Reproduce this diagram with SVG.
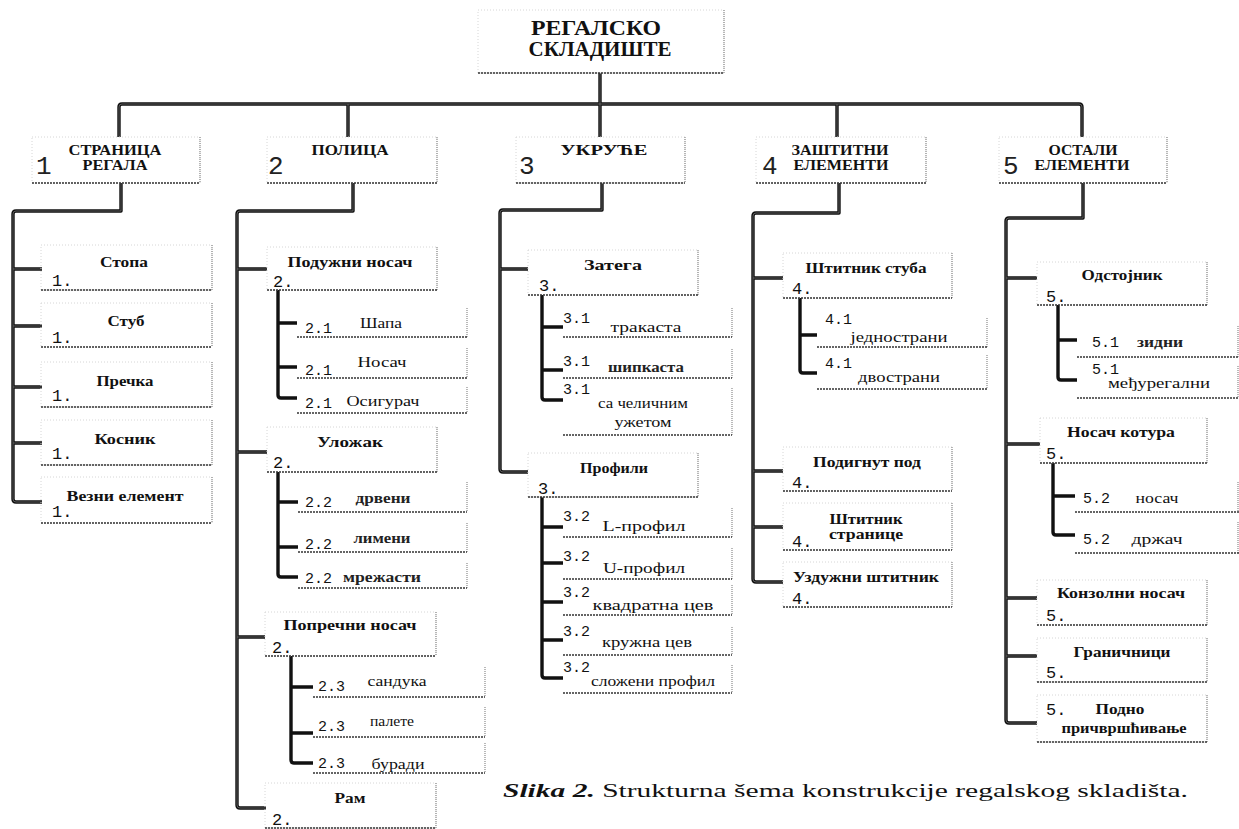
<svg xmlns="http://www.w3.org/2000/svg" xmlns:xlink="http://www.w3.org/1999/xlink" width="1239" height="829" viewBox="0 0 1239 829">
<style>
.bg{fill:#fff}
.bf{fill:none;stroke:#d6d6d6;stroke-width:1;stroke-dasharray:1 2}
.br{fill:none;stroke:#8a8a8a;stroke-width:1.2;stroke-dasharray:1 1}
.bb{fill:none;stroke:#333;stroke-width:1.6;stroke-dasharray:2 1}
.c{fill:none;stroke:#111;stroke-width:3.4;stroke-linejoin:round}
.ci{fill:none;stroke:#777;stroke-width:0.7}
.t0{font-family:"Liberation Serif","DejaVu Serif",serif;font-weight:bold;font-size:20px;fill:#111;text-anchor:middle}
.t1{font-family:"Liberation Serif","DejaVu Serif",serif;font-weight:bold;font-size:14px;fill:#111;text-anchor:middle}
.big{font-family:"Liberation Mono",monospace;font-size:26px;fill:#222}
.l2{font-family:"Liberation Serif","DejaVu Serif",serif;font-weight:bold;font-size:15px;fill:#111;text-anchor:middle}
.l3{font-family:"Liberation Serif","DejaVu Serif",serif;font-size:15px;fill:#111;text-anchor:middle}
.sb{font-family:"Liberation Serif","DejaVu Serif",serif;font-weight:bold;font-size:14px;fill:#222;text-anchor:middle}
.num{font-family:"Liberation Mono",monospace;font-size:17px;fill:#111}
.sn{font-family:"Liberation Mono",monospace;font-size:15px;fill:#111}
.cap{font-family:"Liberation Serif","DejaVu Serif",serif;font-size:19px;fill:#111}
</style>
<defs>
<path id="p0" d="M600,73 V137 M119,137 V107 Q119,104 122,104 H1079 Q1082,104 1082,107 V137 M348,104 V137 M837,104 V137"/>
<path id="p1" d="M121,183 V211 H16 Q13,211 13,214 V499 Q13,502 16,502 H42 M13,269 H42 M13,326 H42 M13,387 H42 M13,443 H42"/>
<path id="p2" d="M353,183 V211 H240 Q237,211 237,214 V805 Q237,808 240,808 H266 M237,269 H267 M237,452 H267 M237,637 H265"/>
<path id="p2a" d="M278,290 V395 Q278,398 281,398 H297 M278,323 H297 M278,367 H297"/>
<path id="p2b" d="M278,472 V574 Q278,577 281,577 H298 M278,502 H298 M278,547 H298"/>
<path id="p2c" d="M291,656 V760 Q291,763 294,763 H313 M291,687 H313 M291,733 H313"/>
<path id="p3" d="M602,183 V210 H503 Q500,210 500,213 V469 Q500,472 503,472 H528 M500,269 H528"/>
<path id="p3a" d="M542,295 V397 Q542,400 545,400 H563 M542,327 H563 M542,370 H563"/>
<path id="p3b" d="M542,497 V675 Q542,678 545,678 H563 M542,527 H563 M542,563 H563 M542,602 H563 M542,640 H563"/>
<path id="p4" d="M839,183 V213 H756 Q753,213 753,216 V579 Q753,582 756,582 H783 M753,278 H783 M753,471 H783 M753,527 H783"/>
<path id="p4a" d="M800,298 V370 Q800,373 803,373 H817 M800,335 H817"/>
<path id="p5" d="M1083,183 V218 H1009 Q1006,218 1006,221 V720 Q1006,723 1009,723 H1037 M1006,278 H1037 M1006,444 H1040 M1006,598 H1037 M1006,656 H1037"/>
<path id="p5a" d="M1058,305 V377 Q1058,380 1061,380 H1077 M1058,340 H1077"/>
<path id="p5b" d="M1053,463 V532 Q1053,535 1056,535 H1075 M1053,496 H1075"/>
</defs>
<rect class="bg" x="0" y="0" width="1239" height="829"/>

<g id="connectors">
<use xlink:href="#p0" class="c"/><use xlink:href="#p1" class="c"/><use xlink:href="#p2" class="c"/><use xlink:href="#p2a" class="c"/><use xlink:href="#p2b" class="c"/><use xlink:href="#p2c" class="c"/><use xlink:href="#p3" class="c"/><use xlink:href="#p3a" class="c"/><use xlink:href="#p3b" class="c"/><use xlink:href="#p4" class="c"/><use xlink:href="#p4a" class="c"/><use xlink:href="#p5" class="c"/><use xlink:href="#p5a" class="c"/><use xlink:href="#p5b" class="c"/>
<use xlink:href="#p0" class="ci"/><use xlink:href="#p1" class="ci"/><use xlink:href="#p2" class="ci"/><use xlink:href="#p3" class="ci"/><use xlink:href="#p4" class="ci"/><use xlink:href="#p5" class="ci"/>
</g>

<g id="root">
<rect class="bf" x="478" y="10" width="246" height="63"/><path class="br" d="M724,10 V73"/><path class="bb" d="M478,73 H724"/>
<text class="t0" x="596" y="35" textLength="130" lengthAdjust="spacingAndGlyphs">РЕГАЛСКО</text>
<text class="t0" x="600" y="56" textLength="143" lengthAdjust="spacingAndGlyphs">СКЛАДИШТЕ</text>
</g>

<g id="n1">
<rect class="bf" x="32" y="137" width="168" height="46"/><path class="br" d="M200,137 V183"/><path class="bb" d="M32,183 H200"/>
<text class="big" x="36" y="174">1</text>
<text class="t1" x="115" y="155" textLength="93" lengthAdjust="spacingAndGlyphs">СТРАНИЦА</text>
<text class="t1" x="115" y="170" textLength="65" lengthAdjust="spacingAndGlyphs">РЕГАЛА</text>
</g>
<g id="n2">
<rect class="bf" x="267" y="137" width="170" height="46"/><path class="br" d="M437,137 V183"/><path class="bb" d="M267,183 H437"/>
<text class="big" x="268" y="174">2</text>
<text class="t1" x="350" y="155" textLength="77" lengthAdjust="spacingAndGlyphs">ПОЛИЦА</text>
</g>
<g id="n3">
<rect class="bf" x="516" y="137" width="169" height="46"/><path class="br" d="M685,137 V183"/><path class="bb" d="M516,183 H685"/>
<text class="big" x="519" y="174">3</text>
<text class="t1" x="604" y="155" textLength="87" lengthAdjust="spacingAndGlyphs">УКРУЋЕ</text>
</g>
<g id="n4">
<rect class="bf" x="756" y="137" width="170" height="46"/><path class="br" d="M926,137 V183"/><path class="bb" d="M756,183 H926"/>
<text class="big" x="762" y="174">4</text>
<text class="t1" x="840" y="155" textLength="97" lengthAdjust="spacingAndGlyphs">ЗАШТИТНИ</text>
<text class="t1" x="841" y="170" textLength="95" lengthAdjust="spacingAndGlyphs">ЕЛЕМЕНТИ</text>
</g>
<g id="n5">
<rect class="bf" x="999" y="137" width="168" height="46"/><path class="br" d="M1167,137 V183"/><path class="bb" d="M999,183 H1167"/>
<text class="big" x="1003" y="174">5</text>
<text class="t1" x="1083" y="155" textLength="69" lengthAdjust="spacingAndGlyphs">ОСТАЛИ</text>
<text class="t1" x="1082" y="170" textLength="95" lengthAdjust="spacingAndGlyphs">ЕЛЕМЕНТИ</text>
</g>

<!-- column 1 -->
<g id="n1-1"><rect class="bf" x="41" y="245" width="171" height="45"/><path class="br" d="M212,245 V290"/><path class="bb" d="M41,290 H212"/>
<text class="l2" x="124" y="267" textLength="48" lengthAdjust="spacingAndGlyphs">Стопа</text><text class="num" x="52" y="286">1.</text></g>
<g id="n1-2"><rect class="bf" x="41" y="303" width="171" height="44"/><path class="br" d="M212,303 V347"/><path class="bb" d="M41,347 H212"/>
<text class="l2" x="126" y="326" textLength="37" lengthAdjust="spacingAndGlyphs">Стуб</text><text class="num" x="52" y="343">1.</text></g>
<g id="n1-3"><rect class="bf" x="41" y="362" width="171" height="45"/><path class="br" d="M212,362 V407"/><path class="bb" d="M41,407 H212"/>
<text class="l2" x="125" y="386" textLength="57" lengthAdjust="spacingAndGlyphs">Пречка</text><text class="num" x="52" y="401">1.</text></g>
<g id="n1-4"><rect class="bf" x="41" y="420" width="171" height="45"/><path class="br" d="M212,420 V465"/><path class="bb" d="M41,465 H212"/>
<text class="l2" x="125" y="444" textLength="61" lengthAdjust="spacingAndGlyphs">Косник</text><text class="num" x="52" y="459">1.</text></g>
<g id="n1-5"><rect class="bf" x="41" y="477" width="171" height="46"/><path class="br" d="M212,477 V523"/><path class="bb" d="M41,523 H212"/>
<text class="l2" x="125" y="501" textLength="117" lengthAdjust="spacingAndGlyphs">Везни елемент</text><text class="num" x="52" y="517">1.</text></g>

<!-- column 2 -->
<g id="n2-1"><rect class="bf" x="267" y="247" width="170" height="43"/><path class="br" d="M437,247 V290"/><path class="bb" d="M267,290 H437"/>
<text class="l2" x="350" y="267" textLength="125" lengthAdjust="spacingAndGlyphs">Подужни носач</text><text class="num" x="273" y="287">2.</text></g>
<g id="n2-1-1"><path class="br" d="M467,308 V337"/><path class="bb" d="M297,337 H467"/>
<text class="sn" x="305" y="333">2.1</text><text class="l3" x="381" y="328" textLength="42" lengthAdjust="spacingAndGlyphs">Шапа</text></g>
<g id="n2-1-2"><path class="br" d="M467,348 V378"/><path class="bb" d="M297,378 H467"/>
<text class="sn" x="305" y="375">2.1</text><text class="l3" x="382" y="367" textLength="49" lengthAdjust="spacingAndGlyphs">Носач</text></g>
<g id="n2-1-3"><path class="br" d="M467,387 V413"/><path class="bb" d="M297,413 H467"/>
<text class="sn" x="305" y="408">2.1</text><text class="l3" x="383" y="406" textLength="73" lengthAdjust="spacingAndGlyphs">Осигурач</text></g>
<g id="n2-2"><rect class="bf" x="267" y="427" width="170" height="45"/><path class="br" d="M437,427 V472"/><path class="bb" d="M267,472 H437"/>
<text class="l2" x="350" y="447" textLength="66" lengthAdjust="spacingAndGlyphs">Уложак</text><text class="num" x="273" y="468">2.</text></g>
<g id="n2-2-1"><path class="br" d="M467,482 V512"/><path class="bb" d="M298,512 H467"/>
<text class="sn" x="305" y="507">2.2</text><text class="sb" x="383" y="503" textLength="55" lengthAdjust="spacingAndGlyphs">дрвени</text></g>
<g id="n2-2-2"><path class="br" d="M467,523 V552"/><path class="bb" d="M298,552 H467"/>
<text class="sn" x="305" y="549">2.2</text><text class="sb" x="382" y="543" textLength="57" lengthAdjust="spacingAndGlyphs">лимени</text></g>
<g id="n2-2-3"><path class="br" d="M467,563 V588"/><path class="bb" d="M298,588 H467"/>
<text class="sn" x="305" y="583">2.2</text><text class="sb" x="382" y="582" textLength="78" lengthAdjust="spacingAndGlyphs">мрежасти</text></g>
<g id="n2-3"><rect class="bf" x="265" y="612" width="171" height="44"/><path class="br" d="M436,612 V656"/><path class="bb" d="M265,656 H436"/>
<text class="l2" x="350" y="630" textLength="133" lengthAdjust="spacingAndGlyphs">Попречни носач</text><text class="num" x="272" y="653">2.</text></g>
<g id="n2-3-1"><path class="br" d="M485,667 V697"/><path class="bb" d="M313,697 H485"/>
<text class="sn" x="318" y="691">2.3</text><text class="l3" x="397" y="686" textLength="59" lengthAdjust="spacingAndGlyphs">сандука</text></g>
<g id="n2-3-2"><path class="br" d="M485,707 V737"/><path class="bb" d="M313,737 H485"/>
<text class="sn" x="318" y="731">2.3</text><text class="l3" x="392" y="726" textLength="44" lengthAdjust="spacingAndGlyphs">палете</text></g>
<g id="n2-3-3"><path class="br" d="M485,743 V773"/><path class="bb" d="M313,773 H485"/>
<text class="sn" x="318" y="768">2.3</text><text class="l3" x="398" y="769" textLength="53" lengthAdjust="spacingAndGlyphs">буради</text></g>
<g id="n2-4"><rect class="bf" x="265" y="783" width="171" height="45"/><path class="br" d="M436,783 V828"/><path class="bb" d="M265,828 H436"/>
<text class="l2" x="350" y="803" textLength="31" lengthAdjust="spacingAndGlyphs">Рам</text><text class="num" x="272" y="825">2.</text></g>

<!-- column 3 -->
<g id="n3-1"><rect class="bf" x="528" y="250" width="170" height="45"/><path class="br" d="M698,250 V295"/><path class="bb" d="M528,295 H698"/>
<text class="l2" x="613" y="270" textLength="58" lengthAdjust="spacingAndGlyphs">Затега</text><text class="num" x="539" y="291">3.</text></g>
<g id="n3-1-1"><path class="br" d="M732,308 V337"/><path class="bb" d="M563,337 H732"/>
<text class="sn" x="563" y="323">3.1</text><text class="l3" x="646" y="332" textLength="71" lengthAdjust="spacingAndGlyphs">тракаста</text></g>
<g id="n3-1-2"><path class="br" d="M732,349 V378"/><path class="bb" d="M563,378 H732"/>
<text class="sn" x="563" y="366">3.1</text><text class="sb" x="646" y="372" textLength="76" lengthAdjust="spacingAndGlyphs">шипкаста</text></g>
<g id="n3-1-3"><path class="br" d="M732,388 V435"/><path class="bb" d="M563,435 H732"/>
<text class="sn" x="563" y="394">3.1</text><text class="l3" x="643" y="408" textLength="90" lengthAdjust="spacingAndGlyphs">са челичним</text><text class="l3" x="643" y="427" textLength="57" lengthAdjust="spacingAndGlyphs">ужетом</text></g>
<g id="n3-2"><rect class="bf" x="528" y="453" width="170" height="44"/><path class="br" d="M698,453 V497"/><path class="bb" d="M528,497 H698"/>
<text class="l2" x="614" y="473" textLength="68" lengthAdjust="spacingAndGlyphs">Профили</text><text class="num" x="538" y="494">3.</text></g>
<g id="n3-2-1"><path class="br" d="M732,508 V537"/><path class="bb" d="M563,537 H732"/>
<text class="sn" x="563" y="521">3.2</text><text class="l3" x="644" y="531" textLength="83" lengthAdjust="spacingAndGlyphs">L-профил</text></g>
<g id="n3-2-2"><path class="br" d="M732,548 V579"/><path class="bb" d="M563,579 H732"/>
<text class="sn" x="563" y="561">3.2</text><text class="l3" x="644" y="573" textLength="82" lengthAdjust="spacingAndGlyphs">U-профил</text></g>
<g id="n3-2-3"><path class="br" d="M732,585 V615"/><path class="bb" d="M563,615 H732"/>
<text class="sn" x="563" y="597">3.2</text><text class="l3" x="653" y="610" textLength="121" lengthAdjust="spacingAndGlyphs">квадратна цев</text></g>
<g id="n3-2-4"><path class="br" d="M732,627 V655"/><path class="bb" d="M563,655 H732"/>
<text class="sn" x="563" y="636">3.2</text><text class="l3" x="647" y="647" textLength="90" lengthAdjust="spacingAndGlyphs">кружна цев</text></g>
<g id="n3-2-5"><path class="br" d="M732,665 V693"/><path class="bb" d="M563,693 H732"/>
<text class="sn" x="563" y="672">3.2</text><text class="l3" x="653" y="686" textLength="124" lengthAdjust="spacingAndGlyphs">сложени профил</text></g>

<!-- column 4 -->
<g id="n4-1"><rect class="bf" x="783" y="253" width="169" height="45"/><path class="br" d="M952,253 V298"/><path class="bb" d="M783,298 H952"/>
<text class="l2" x="866" y="273" textLength="121" lengthAdjust="spacingAndGlyphs">Штитник стуба</text><text class="num" x="792" y="294">4.</text></g>
<g id="n4-1-1"><path class="br" d="M987,318 V347"/><path class="bb" d="M817,347 H987"/>
<text class="sn" x="825" y="324">4.1</text><text class="l3" x="899" y="342" textLength="97" lengthAdjust="spacingAndGlyphs">једнострани</text></g>
<g id="n4-1-2"><path class="br" d="M987,355 V389"/><path class="bb" d="M817,389 H987"/>
<text class="sn" x="825" y="368">4.1</text><text class="l3" x="899" y="382" textLength="82" lengthAdjust="spacingAndGlyphs">двострани</text></g>
<g id="n4-2"><rect class="bf" x="783" y="447" width="169" height="44"/><path class="br" d="M952,447 V491"/><path class="bb" d="M783,491 H952"/>
<text class="l2" x="867" y="467" textLength="108" lengthAdjust="spacingAndGlyphs">Подигнут под</text><text class="num" x="792" y="488">4.</text></g>
<g id="n4-3"><rect class="bf" x="783" y="503" width="169" height="47"/><path class="br" d="M952,503 V550"/><path class="bb" d="M783,550 H952"/>
<text class="l2" x="866" y="524" textLength="73" lengthAdjust="spacingAndGlyphs">Штитник</text><text class="l2" x="866" y="539" textLength="74" lengthAdjust="spacingAndGlyphs">странице</text><text class="num" x="792" y="547">4.</text></g>
<g id="n4-4"><rect class="bf" x="783" y="562" width="169" height="45"/><path class="br" d="M952,562 V607"/><path class="bb" d="M783,607 H952"/>
<text class="l2" x="866" y="582" textLength="146" lengthAdjust="spacingAndGlyphs">Уздужни штитник</text><text class="num" x="792" y="604">4.</text></g>

<!-- column 5 -->
<g id="n5-1"><rect class="bf" x="1037" y="262" width="170" height="43"/><path class="br" d="M1207,262 V305"/><path class="bb" d="M1037,305 H1207"/>
<text class="l2" x="1122" y="280" textLength="81" lengthAdjust="spacingAndGlyphs">Одстојник</text><text class="num" x="1046" y="302">5.</text></g>
<g id="n5-1-1"><path class="br" d="M1238,326 V357"/><path class="bb" d="M1077,357 H1239"/>
<text class="sn" x="1092" y="347">5.1</text><text class="sb" x="1160" y="347" textLength="46" lengthAdjust="spacingAndGlyphs">зидни</text></g>
<g id="n5-1-2"><path class="br" d="M1238,366 V398"/><path class="bb" d="M1077,398 H1239"/>
<text class="sn" x="1092" y="374">5.1</text><text class="l3" x="1159" y="388" textLength="102" lengthAdjust="spacingAndGlyphs">међурегални</text></g>
<g id="n5-2"><rect class="bf" x="1040" y="418" width="167" height="45"/><path class="br" d="M1207,418 V463"/><path class="bb" d="M1040,463 H1207"/>
<text class="l2" x="1121" y="437" textLength="108" lengthAdjust="spacingAndGlyphs">Носач котура</text><text class="num" x="1046" y="459">5.</text></g>
<g id="n5-2-1"><path class="br" d="M1238,482 V512"/><path class="bb" d="M1075,512 H1239"/>
<text class="sn" x="1083" y="503">5.2</text><text class="l3" x="1157" y="503" textLength="43" lengthAdjust="spacingAndGlyphs">носач</text></g>
<g id="n5-2-2"><path class="br" d="M1238,522 V553"/><path class="bb" d="M1075,553 H1239"/>
<text class="sn" x="1083" y="544">5.2</text><text class="l3" x="1157" y="544" textLength="51" lengthAdjust="spacingAndGlyphs">држач</text></g>
<g id="n5-3"><rect class="bf" x="1037" y="580" width="170" height="45"/><path class="br" d="M1207,580 V625"/><path class="bb" d="M1037,625 H1207"/>
<text class="l2" x="1121" y="598" textLength="128" lengthAdjust="spacingAndGlyphs">Конзолни носач</text><text class="num" x="1046" y="621">5.</text></g>
<g id="n5-4"><rect class="bf" x="1037" y="638" width="170" height="44"/><path class="br" d="M1207,638 V682"/><path class="bb" d="M1037,682 H1207"/>
<text class="l2" x="1122" y="657" textLength="97" lengthAdjust="spacingAndGlyphs">Граничници</text><text class="num" x="1046" y="678">5.</text></g>
<g id="n5-5"><rect class="bf" x="1037" y="695" width="170" height="47"/><path class="br" d="M1207,695 V742"/><path class="bb" d="M1037,742 H1207"/>
<text class="num" x="1046" y="715">5.</text><text class="l2" x="1120" y="714" textLength="49" lengthAdjust="spacingAndGlyphs">Подно</text><text class="l2" x="1124" y="733" textLength="125" lengthAdjust="spacingAndGlyphs">причвршћивање</text></g>

<g id="caption">
<text class="cap" x="503" y="797" textLength="685" lengthAdjust="spacingAndGlyphs"><tspan font-weight="bold" font-style="italic">Slika 2.</tspan> Strukturna šema konstrukcije regalskog skladišta.</text>
</g>
</svg>
